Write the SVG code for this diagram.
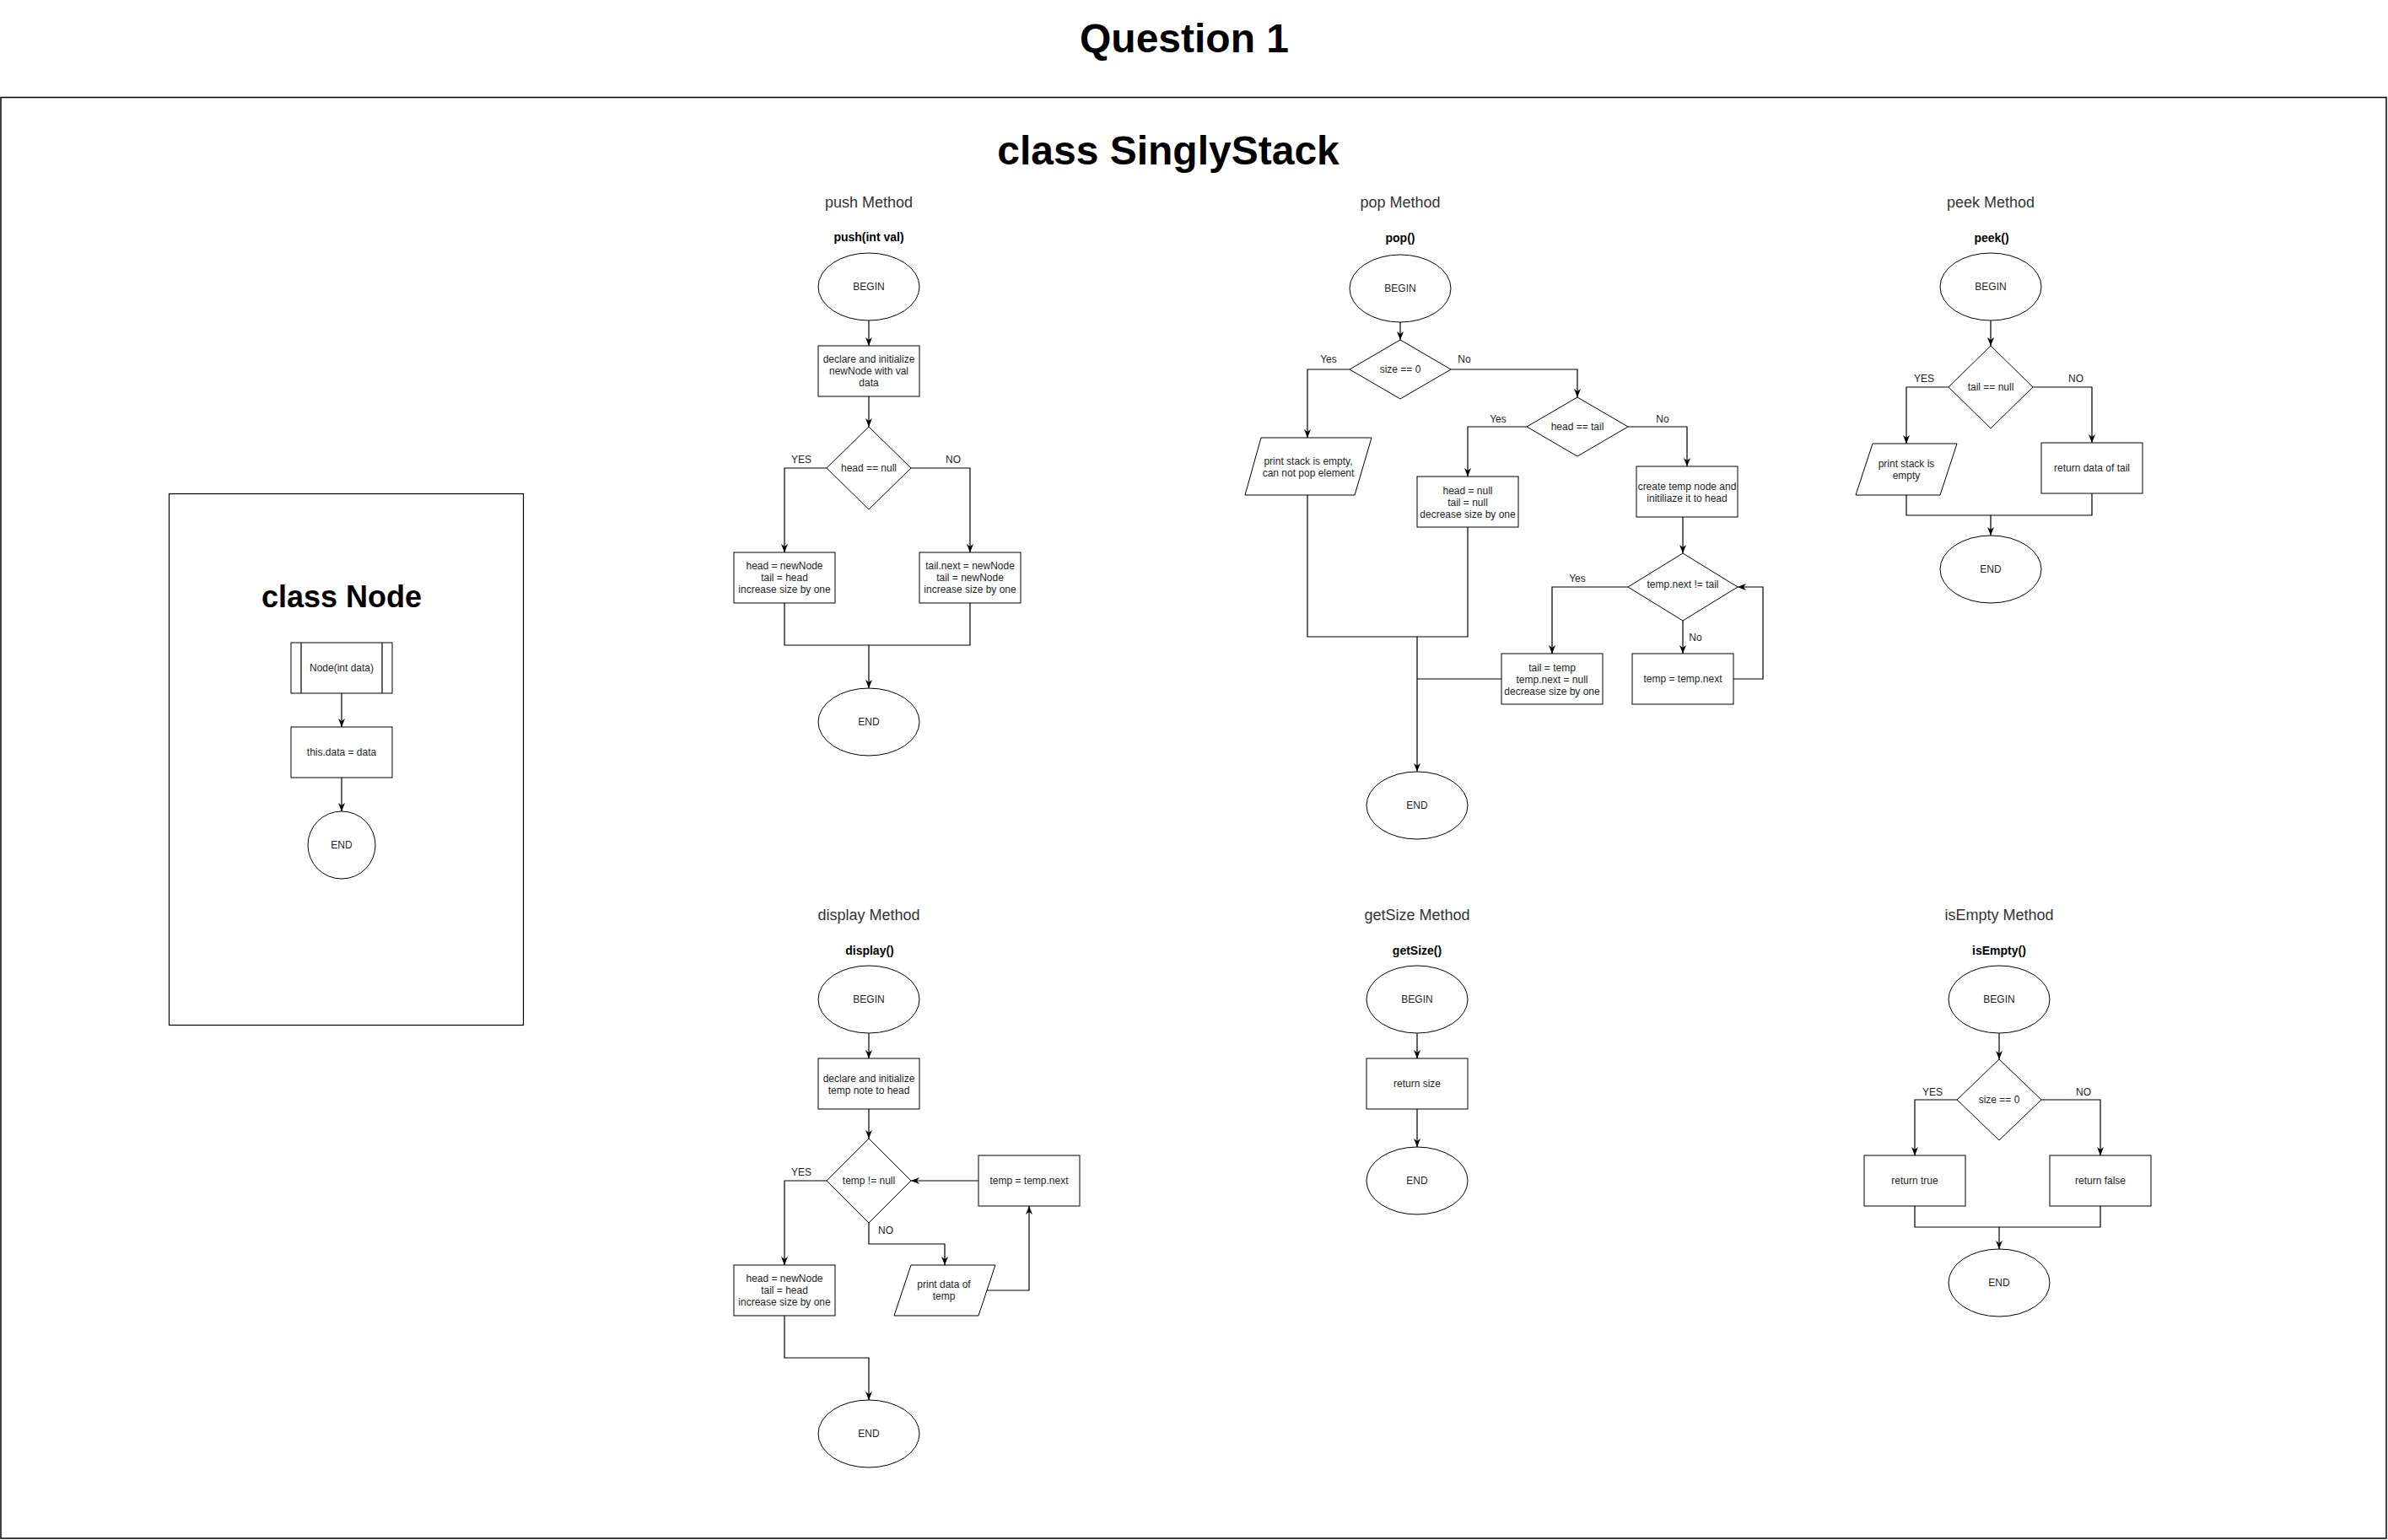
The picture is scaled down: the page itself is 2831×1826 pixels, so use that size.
<svg xmlns="http://www.w3.org/2000/svg" width="2831" height="1826" viewBox="0 0 2831 1826">
<style>
text{font-family:"Liberation Sans",Arial,Helvetica,sans-serif;text-anchor:middle;fill:#1e1e1e}
.t{font-size:12px}
.h{font-size:18px;fill:#333}
.sig{font-size:14px;font-weight:bold;fill:#000}
.big{font-size:48px;font-weight:bold;fill:#000}
.cls{font-size:36px;font-weight:bold;fill:#000}
.s{fill:#fff;stroke:#000;stroke-width:1}
.frame{fill:none;stroke:#000;stroke-width:1.5}
.e{fill:none;stroke:#000;stroke-width:1.2}
.a{marker-end:url(#arr)}
</style>
<defs>
<marker id="arr" viewBox="0 0 10 8" refX="10" refY="4" markerWidth="10" markerHeight="8" markerUnits="userSpaceOnUse" orient="auto">
<path d="M0,0 L10,4 L0,8 L3,4 Z" fill="#000"/>
</marker>
</defs>
<rect width="2831" height="1826" fill="#fff"/>

<g id="titles">
<text class="big" x="1404" y="62">Question 1</text>
<rect class="frame" x="1" y="115.5" width="2828" height="1708.5"/>
<text class="big" x="1385" y="195">class SinglyStack</text>
<text class="h" x="1030" y="246">push Method</text>
<text class="sig" x="1030" y="286">push(int val)</text>
<text class="h" x="1660" y="246">pop Method</text>
<text class="sig" x="1660" y="287">pop()</text>
<text class="h" x="2360" y="246">peek Method</text>
<text class="sig" x="2361" y="287">peek()</text>
<text class="h" x="1030" y="1091">display Method</text>
<text class="sig" x="1031" y="1132">display()</text>
<text class="h" x="1680" y="1091">getSize Method</text>
<text class="sig" x="1680" y="1132">getSize()</text>
<text class="h" x="2370" y="1091">isEmpty Method</text>
<text class="sig" x="2370" y="1132">isEmpty()</text>
</g>

<g id="connectors">
<!-- class Node -->
<path class="e a" d="M405,822 V862"/>
<path class="e a" d="M405,922 V962"/>
<!-- push -->
<path class="e a" d="M1030,380 V410"/>
<path class="e a" d="M1030,470 V506"/>
<path class="e a" d="M980,555 H930 V655"/>
<path class="e a" d="M1080,555 H1150 V655"/>
<path class="e a" d="M930,715 V765 H1030 V816"/>
<path class="e" d="M1150,715 V765 H1030"/>
<!-- pop -->
<path class="e a" d="M1660,382 V403"/>
<path class="e a" d="M1600,438 H1550 V519"/>
<path class="e a" d="M1720,438 H1870 V471"/>
<path class="e a" d="M1810,506 H1740 V565"/>
<path class="e a" d="M1930,506 H2000 V553"/>
<path class="e a" d="M1995,613 V656"/>
<path class="e a" d="M1930,696 H1840 V775"/>
<path class="e a" d="M1995,736 V775"/>
<path class="e a" d="M2055,805 H2090 V696 H2060"/>
<path class="e a" d="M1550,587 V755 H1680 V915"/>
<path class="e" d="M1740,625 V755 H1680"/>
<path class="e" d="M1780,805 H1680"/>
<!-- peek -->
<path class="e a" d="M2360,380 V410"/>
<path class="e a" d="M2310,459 H2260 V526"/>
<path class="e a" d="M2410,459 H2480 V525"/>
<path class="e a" d="M2260,587 V611 H2360 V635"/>
<path class="e" d="M2480,585 V611 H2360"/>
<!-- display -->
<path class="e a" d="M1030,1225 V1255"/>
<path class="e a" d="M1030,1315 V1350"/>
<path class="e a" d="M980,1400 H930 V1500"/>
<path class="e a" d="M930,1560 V1610 H1030 V1660"/>
<path class="e a" d="M1030,1450 V1475 H1120 V1500"/>
<path class="e a" d="M1170,1530 H1220 V1430"/>
<path class="e a" d="M1160,1400 H1080"/>
<!-- getSize -->
<path class="e a" d="M1680,1225 V1255"/>
<path class="e a" d="M1680,1315 V1360"/>
<!-- isEmpty -->
<path class="e a" d="M2370,1225 V1256"/>
<path class="e a" d="M2320,1304 H2270 V1370"/>
<path class="e a" d="M2420,1304 H2490 V1370"/>
<path class="e a" d="M2270,1430 V1455 H2370 V1481"/>
<path class="e" d="M2490,1430 V1455 H2370"/>
</g>

<g id="edge-labels" class="t">
<text class="t" x="950" y="549">YES</text>
<text class="t" x="1130" y="549">NO</text>
<text class="t" x="1575" y="430">Yes</text>
<text class="t" x="1736" y="430">No</text>
<text class="t" x="1776" y="501">Yes</text>
<text class="t" x="1971" y="501">No</text>
<text class="t" x="1870" y="690">Yes</text>
<text class="t" x="2010" y="760">No</text>
<text class="t" x="2281" y="453">YES</text>
<text class="t" x="2461" y="453">NO</text>
<text class="t" x="950" y="1394">YES</text>
<text class="t" x="1050" y="1463">NO</text>
<text class="t" x="2291" y="1299">YES</text>
<text class="t" x="2470" y="1299">NO</text>
</g>

<!-- class Node -->
<g id="node-class">
<rect class="frame" x="200.5" y="585.5" width="420" height="630" style="stroke-width:1.2"/>
<text class="cls" x="405" y="720">class Node</text>
</g>
<g id="node-ctor">
<rect class="s" x="345" y="762" width="120" height="60"/>
<path class="e" d="M357,762 V822 M453,762 V822"/>
<text class="t" x="405" y="796">Node(int data)</text>
</g>
<g id="node-assign">
<rect class="s" x="345" y="862" width="120" height="60"/>
<text class="t" x="405" y="896">this.data = data</text>
</g>
<g id="node-end">
<circle class="s" cx="405" cy="1002" r="40"/>
<text class="t" x="405" y="1006">END</text>
</g>

<!-- push -->
<g id="push-begin">
<ellipse class="s" cx="1030" cy="340" rx="60" ry="40"/>
<text class="t" x="1030" y="344">BEGIN</text>
</g>
<g id="push-declare">
<rect class="s" x="970" y="410" width="120" height="60"/>
<text class="t" x="1030" y="430">declare and initialize</text>
<text class="t" x="1030" y="444">newNode with val</text>
<text class="t" x="1030" y="458">data</text>
</g>
<g id="push-cond">
<polygon class="s" points="1030,506 1080,555 1030,604 980,555"/>
<text class="t" x="1030" y="559">head == null</text>
</g>
<g id="push-yes">
<rect class="s" x="870" y="655" width="120" height="60"/>
<text class="t" x="930" y="675">head = newNode</text>
<text class="t" x="930" y="689">tail = head</text>
<text class="t" x="930" y="703">increase size by one</text>
</g>
<g id="push-no">
<rect class="s" x="1090" y="655" width="120" height="60"/>
<text class="t" x="1150" y="675">tail.next = newNode</text>
<text class="t" x="1150" y="689">tail = newNode</text>
<text class="t" x="1150" y="703">increase size by one</text>
</g>
<g id="push-end">
<ellipse class="s" cx="1030" cy="856" rx="60" ry="40"/>
<text class="t" x="1030" y="860">END</text>
</g>

<!-- pop -->
<g id="pop-begin">
<ellipse class="s" cx="1660" cy="342" rx="60" ry="40"/>
<text class="t" x="1660" y="346">BEGIN</text>
</g>
<g id="pop-cond1">
<polygon class="s" points="1660,403 1720,438 1660,473 1600,438"/>
<text class="t" x="1660" y="442">size == 0</text>
</g>
<g id="pop-empty">
<polygon class="s" points="1495,519 1626,519 1606,587 1476,587"/>
<text class="t" x="1551" y="551">print stack is empty,</text>
<text class="t" x="1551" y="565">can not pop element</text>
</g>
<g id="pop-cond2">
<polygon class="s" points="1870,471 1930,506 1870,541 1810,506"/>
<text class="t" x="1870" y="510">head == tail</text>
</g>
<g id="pop-single">
<rect class="s" x="1680" y="565" width="120" height="60"/>
<text class="t" x="1740" y="586">head = null</text>
<text class="t" x="1740" y="600">tail = null</text>
<text class="t" x="1740" y="614">decrease size by one</text>
</g>
<g id="pop-temp">
<rect class="s" x="1940" y="553" width="120" height="60"/>
<text class="t" x="2000" y="581">create temp node and</text>
<text class="t" x="2000" y="595">initiliaze it to head</text>
</g>
<g id="pop-cond3">
<polygon class="s" points="1995,656 2060,696 1995,736 1930,696"/>
<text class="t" x="1995" y="697">temp.next != tail</text>
</g>
<g id="pop-last">
<rect class="s" x="1780" y="775" width="120" height="60"/>
<text class="t" x="1840" y="796">tail = temp</text>
<text class="t" x="1840" y="810">temp.next = null</text>
<text class="t" x="1840" y="824">decrease size by one</text>
</g>
<g id="pop-advance">
<rect class="s" x="1935" y="775" width="120" height="60"/>
<text class="t" x="1995" y="809">temp = temp.next</text>
</g>
<g id="pop-end">
<ellipse class="s" cx="1680" cy="955" rx="60" ry="40"/>
<text class="t" x="1680" y="959">END</text>
</g>

<!-- peek -->
<g id="peek-begin">
<ellipse class="s" cx="2360" cy="340" rx="60" ry="40"/>
<text class="t" x="2360" y="344">BEGIN</text>
</g>
<g id="peek-cond">
<polygon class="s" points="2360,410 2410,459 2360,508 2310,459"/>
<text class="t" x="2360" y="463">tail == null</text>
</g>
<g id="peek-empty">
<polygon class="s" points="2220,526 2320,526 2300,587 2200,587"/>
<text class="t" x="2260" y="554">print stack is</text>
<text class="t" x="2260" y="568">empty</text>
</g>
<g id="peek-return">
<rect class="s" x="2420" y="525" width="120" height="60"/>
<text class="t" x="2480" y="559">return data of tail</text>
</g>
<g id="peek-end">
<ellipse class="s" cx="2360" cy="675" rx="60" ry="40"/>
<text class="t" x="2360" y="679">END</text>
</g>

<!-- display -->
<g id="display-begin">
<ellipse class="s" cx="1030" cy="1185" rx="60" ry="40"/>
<text class="t" x="1030" y="1189">BEGIN</text>
</g>
<g id="display-declare">
<rect class="s" x="970" y="1255" width="120" height="60"/>
<text class="t" x="1030" y="1283">declare and initialize</text>
<text class="t" x="1030" y="1297">temp note to head</text>
</g>
<g id="display-cond">
<polygon class="s" points="1030,1350 1080,1400 1030,1450 980,1400"/>
<text class="t" x="1030" y="1404">temp != null</text>
</g>
<g id="display-yes">
<rect class="s" x="870" y="1500" width="120" height="60"/>
<text class="t" x="930" y="1520">head = newNode</text>
<text class="t" x="930" y="1534">tail = head</text>
<text class="t" x="930" y="1548">increase size by one</text>
</g>
<g id="display-print">
<polygon class="s" points="1080,1500 1180,1500 1160,1560 1060,1560"/>
<text class="t" x="1119" y="1527">print data of</text>
<text class="t" x="1119" y="1541">temp</text>
</g>
<g id="display-advance">
<rect class="s" x="1160" y="1370" width="120" height="60"/>
<text class="t" x="1220" y="1404">temp = temp.next</text>
</g>
<g id="display-end">
<ellipse class="s" cx="1030" cy="1700" rx="60" ry="40"/>
<text class="t" x="1030" y="1704">END</text>
</g>

<!-- getSize -->
<g id="getsize-begin">
<ellipse class="s" cx="1680" cy="1185" rx="60" ry="40"/>
<text class="t" x="1680" y="1189">BEGIN</text>
</g>
<g id="getsize-return">
<rect class="s" x="1620" y="1255" width="120" height="60"/>
<text class="t" x="1680" y="1289">return size</text>
</g>
<g id="getsize-end">
<ellipse class="s" cx="1680" cy="1400" rx="60" ry="40"/>
<text class="t" x="1680" y="1404">END</text>
</g>

<!-- isEmpty -->
<g id="isempty-begin">
<ellipse class="s" cx="2370" cy="1185" rx="60" ry="40"/>
<text class="t" x="2370" y="1189">BEGIN</text>
</g>
<g id="isempty-cond">
<polygon class="s" points="2370,1256 2420,1304 2370,1352 2320,1304"/>
<text class="t" x="2370" y="1308">size == 0</text>
</g>
<g id="isempty-true">
<rect class="s" x="2210" y="1370" width="120" height="60"/>
<text class="t" x="2270" y="1404">return true</text>
</g>
<g id="isempty-false">
<rect class="s" x="2430" y="1370" width="120" height="60"/>
<text class="t" x="2490" y="1404">return false</text>
</g>
<g id="isempty-end">
<ellipse class="s" cx="2370" cy="1521" rx="60" ry="40"/>
<text class="t" x="2370" y="1525">END</text>
</g>
</svg>
